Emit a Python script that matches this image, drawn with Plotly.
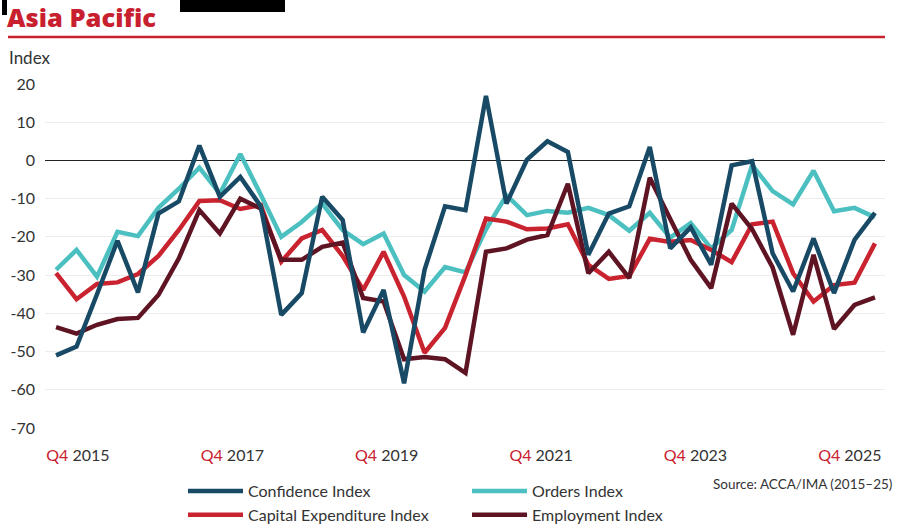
import plotly.graph_objects as go

# ---- data ----
quarters = [f"Q{q} {y}" for y in range(2015, 2026) for q in (1, 2, 3, 4)][3:44]
confidence = [-51, -48.7, -35, -21, -34.5, -13.9, -10.7, 3.9, -9.5, -4.3, -12, -40.4, -34.7, -9.5,
              -15.6, -45, -33.9, -58.3, -28.6, -12, -13, 16.9, -11.3, 0.2, 5.0, 2.2, -24.7, -13.9,
              -12, 3.5, -23, -17.5, -27.3, -1.3, -0.2, -24.3, -34.3, -20.4, -34.7, -20.8, -13.7]
orders = [-28.6, -23.4, -30.4, -18.7, -19.8, -12.4, -7.4, -1.9, -8.7, 1.7, -9, -20, -16.1, -11.3,
          -18.2, -21.9, -19.1, -30, -34.3, -27.9, -29.3, -18, -9.1, -14.3, -13.2, -13.7, -12.4, -14.3,
          -18.4, -13.7, -20.2, -16.4, -23, -18.2, -1.2, -8, -11.5, -2.7, -13.3, -12.4, -14.9]
capex = [-29.5, -36.3, -32.3, -31.9, -29.7, -25, -18.2, -10.6, -10.4, -12.7, -11.7, -26.5, -20.4, -18.2,
         -25, -33.9, -23.9, -35.6, -50.3, -43.8, -30, -15.2, -16, -18, -17.8, -16.7, -27.3, -31,
         -30.2, -20.5, -21.3, -20.8, -23.4, -26.6, -16.7, -16, -29.5, -36.9, -32.6, -32, -21.7]
employment = [-43.6, -45.3, -43, -41.5, -41.2, -35.2, -25.6, -13, -19.1, -10, -12.6, -26, -26, -22.6,
              -21.5, -36, -36.9, -52, -51.4, -52, -55.6, -23.9, -23, -20.7, -19.5, -6.1, -29.5, -23.9,
              -30.8, -4.5, -15.3, -26, -33.4, -11.3, -18, -28, -45.6, -24.7, -44.1, -37.8, -35.8]
tick_years = ["2015", "2017", "2019", "2021", "2023", "2025"]
y_ticks = [20, 10, 0, -10, -20, -30, -40, -50, -60, -70]

RED = "#c8202f"
TXT = "#333333"
FONT = "Lato"

x = list(range(len(quarters)))

series = [
    ("Orders Index", orders, "#4cc0c1", 2),
    ("Capital Expenditure Index", capex, "#c9232f", 3),
    ("Employment Index", employment, "#5e1423", 4),
    ("Confidence Index", confidence, "#184a66", 1),
]

fig = go.Figure()
for name, vals, col, rank in series:
    fig.add_trace(go.Scatter(x=x, y=vals, mode="lines", name=name, legendrank=rank,
                             customdata=quarters,
                             line=dict(color=col, width=4.5),
                             hovertemplate="%{customdata}: %{y}<extra>" + name + "</extra>"))

# tick positions (evenly spaced label slots)
tick_pos = [1.07 + 7.54 * k for k in range(len(tick_years))]
tick_text = [f"<span style='color:{RED}'>Q4</span> {yr}" for yr in tick_years]

fig.update_layout(
    width=910, height=532,
    margin=dict(l=45, r=25, t=84, b=104, autoexpand=False),
    paper_bgcolor="white", plot_bgcolor="white",
    font=dict(family=FONT, color=TXT, size=16),
    showlegend=True,
    legend=dict(orientation="h", xref="container", x=183 / 910, xanchor="left",
                yref="container", y=1 - 474 / 532, yanchor="top",
                entrywidth=214, entrywidthmode="pixels", itemwidth=55,
                font=dict(size=16, color=TXT), tracegroupgap=0, itemclick=False),
    title=dict(text="Asia Pacific", x=7 / 910, xref="container", xanchor="left",
               y=1 - 18 / 532, yref="container", yanchor="middle",
               font=dict(family="Open Sans", size=25.5, color=RED, weight=800)),
    hovermode="x unified",
)

fig.update_xaxes(range=[-0.54, 40.49], tickvals=tick_pos, ticktext=tick_text,
                 showgrid=False, zeroline=False, showline=False, ticks="",
                 ticklabelstandoff=16, tickfont=dict(size=16, color=TXT), fixedrange=True,
                 automargin=False)
fig.update_yaxes(range=[-70, 20], tickvals=y_ticks, ticktext=[str(v) for v in y_ticks],
                 showgrid=True, gridcolor="#ececec", gridwidth=1,
                 zeroline=True, zerolinecolor="#222222", zerolinewidth=1.2,
                 showline=False, ticks="", ticklabelstandoff=9,
                 tickfont=dict(size=16, color=TXT), fixedrange=True, automargin=False)

# red rule under title
fig.add_shape(type="line", xref="paper", yref="paper",
              x0=(8 - 45) / 840, x1=1.0, y0=(428 - 37) / 344, y1=(428 - 37) / 344,
              line=dict(color=RED, width=2.5))
# dark blocks at the top edge
fig.add_shape(type="rect", xref="paper", yref="paper",
              x0=(180 - 45) / 840, x1=(285 - 45) / 840, y0=(428 - 12) / 344, y1=(428 + 2) / 344,
              fillcolor="black", line=dict(width=0))
fig.add_shape(type="rect", xref="paper", yref="paper",
              x0=(2 - 45) / 840, x1=(7 - 45) / 840, y0=(428 - 15) / 344, y1=(428 + 2) / 344,
              fillcolor="black", line=dict(width=0))

fig.add_annotation(text="Index", xref="paper", yref="paper", x=(7 - 45) / 840, y=(428 - 57) / 344,
                   xanchor="left", yanchor="middle", showarrow=False,
                   font=dict(size=17, color=TXT))
fig.add_annotation(text="Source: ACCA/IMA (2015–25)", xref="paper", yref="paper",
                   x=(894 - 45) / 840, y=(428 - 484) / 344, xanchor="right", yanchor="middle",
                   showarrow=False, font=dict(size=13.5, color=TXT))

fig.write_html("out.html")
